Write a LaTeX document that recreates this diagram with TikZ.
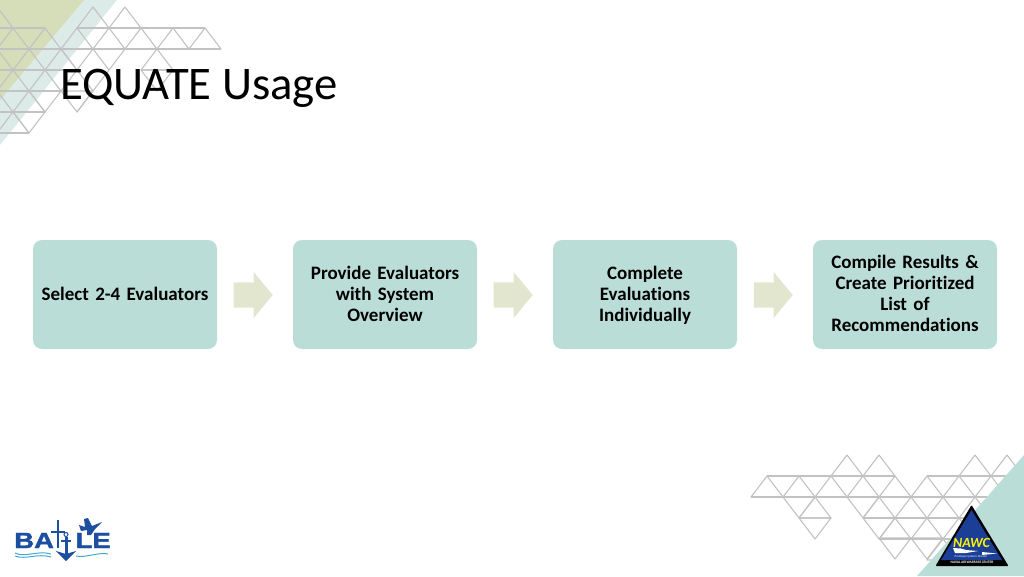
\documentclass[tikz,border=0pt]{standalone}
\usepackage{fontspec}
\setmainfont[Ligatures=NoCommon,BoldFeatures={WordSpace=0.5}]{Carlito}
\newfontfamily\logofont[BoldFeatures={FakeBold=1.5}]{Liberation Sans}
\usetikzlibrary{shapes.arrows}
\definecolor{paleteal}{HTML}{DDEBE8}
\definecolor{boxteal}{HTML}{BBDDD7}
\definecolor{palegreen}{HTML}{D6DDB9}
\definecolor{arrowgreen}{HTML}{E3E6CF}
\definecolor{meshgray}{HTML}{C2C2C2}
\definecolor{logoblue}{HTML}{1C4FA0}
\definecolor{navyblue}{HTML}{1B3E96}
\definecolor{wavecyan}{HTML}{3FA9D6}
\tikzset{
  stepbox/.style={rectangle, rounded corners=9pt, fill=boxteal, minimum width=184pt,
    minimum height=109pt, text width=176pt, align=center, font=\fontsize{19}{21}\selectfont\bfseries,
    inner sep=0pt},
  steparrow/.style={single arrow, fill=arrowgreen, minimum height=39pt, inner ysep=12.5pt, inner xsep=0pt,
    single arrow head extend=10.5pt, single arrow tip angle=101, anchor=tip},
  mesh/.style={draw=meshgray, line width=1.1pt, line join=round},
  logoletters/.style={inner sep=0pt, text=logoblue, xscale=1.25, transform shape,
    font=\fontsize{22}{22}\logofont\bfseries}
}
\newcommand{\uptri}[2]{\path[mesh] (#1,-#2) -- ++(16,-21) -- ++(-32,0) -- cycle;}
\newcommand{\downtri}[2]{\path[mesh] (#1,-#2) -- ++(16,21) -- ++(-32,0) -- cycle;}
\begin{document}
\begin{tikzpicture}[x=1pt,y=1pt]
  \useasboundingbox (0,-576) rectangle (1024,0);
  \clip (0,-576) rectangle (1024,0);

  % corner, top left
  \fill[paleteal] (0,0) -- (117,0) -- (0,-145) -- cycle;
  \fill[palegreen] (0,0) -- (84,0) -- (0,-100) -- cycle;
  \foreach \x/\y in {-3/7, 93/7, 125/7,
      13/28, 45/28, 77/28, 109/28, 141/28, 173/28, 205/28,
      -3/49, 29/49, 61/49, 157/49,
      13/70, 45/70, -3/91, 29/91, 13/112}
  {
    \uptri{\x}{\y}
  }
  \foreach \x/\y in {77/112, 29/133, 45/112, 157/91}
  {
    \downtri{\x}{\y}
  }
  \foreach \a/\b/\y in {-3/45/28, 77/205/28, -3/221/49, -3/77/70, -3/61/91, -3/45/112, -3/29/133}
  {
    \draw[mesh] (\a,-\y) -- (\b,-\y);
  }
  \draw[mesh]
    (125,-49) -- (77,-112)
    (93,-49) -- (109,-70)
    (93,-49) -- (61,-91)
    (61,-49) -- (93,-91);

  % corner, bottom right
  \foreach \x/\y in {847/455, 879/455, 975/455, 1007/455,
      767/476, 799/476, 831/476, 863/476, 895/476, 927/476, 959/476, 991/476,
      815/497, 879/497, 911/497, 943/497, 975/497,
      895/518, 927/518, 959/518, 943/539, 975/539}
  {
    \uptri{\x}{\y}
  }
  \foreach \x/\y in {799/518, 815/539, 863/518, 879/539, 895/559, 927/559}
  {
    \downtri{\x}{\y}
  }
  \foreach \a/\b/\y in {767/895/476, 927/1023/476, 751/1007/497, 863/991/518, 879/1007/539}
  {
    \draw[mesh] (\a,-\y) -- (\b,-\y);
  }
  \fill[boxteal] (1024,-455) -- (917,-576) -- (1024,-576) -- cycle;

  \path (60,-88) node[anchor=west, inner sep=0pt] (title)
    {\fontsize{46.7}{50}\selectfont EQUATE Usage};

  \foreach \i/\x/\t in {1/125/{Select 2-4 Evaluators},
      2/385/{Provide Evaluators\\with System\\Overview},
      3/645/{Complete\\Evaluations\\Individually},
      4/905/{Compile Results \&\\Create Prioritized\\List of\\Recommendations}}
  {
    \path (\x,-294.5) node[stepbox] (s\i) {\rule{0pt}{16.6pt}\t\rule[-5pt]{0pt}{5pt}};
  }

  \foreach \i in {1, 2, 3}
  {
    \path (\i*260+13,-295) node[steparrow] (a\i) {};
  }

  % NAWC logo
  \fill[black, rounded corners=1pt] (971.5,-505) -- (1008.5,-566) -- (935.5,-566) -- cycle;
  \fill[navyblue] (971.5,-510) -- (1002,-560) -- (941,-560) -- cycle;
  \path (971.5,-542.5) node[inner sep=0pt, text=yellow] (nawc)
    {\fontsize{14}{14}\selectfont\bfseries\itshape NAWC};
  \fill[white] (953,-548) -- (961,-548.5) -- (966,-550) -- (978,-551) -- (966,-553) -- (955,-553) -- cycle;
  \fill[white] (982,-552) -- (997,-553.5) -- (982,-555) -- cycle;
  \path (971,-557) node[inner sep=0pt, text=white] (division)
    {\fontsize{3}{3}\selectfont\itshape Prototype Systems Division};
  \path (972,-562.7) node[inner sep=0pt, text=white] (center)
    {\fontsize{3.6}{4}\selectfont\bfseries NAVAL AIR WARFARE CENTER};

  % BATTLE logo
  \path (14,-540.5) node[anchor=west, logoletters] (ba) {BA};
  \path (111,-540.5) node[anchor=east, logoletters] (le) {LE};
  \draw[logoblue, line width=1.2pt] (58,-520) -- (58,-548) (51,-532) -- (65,-532);
  \draw[logoblue, line width=3pt] (66,-537) -- (66,-556);
  \fill[logoblue] (56,-551) -- (66,-561) -- (76,-551) -- (66,-554) -- cycle;
  \draw[logoblue, line width=1pt] (66,-534.5) circle (2pt);
  \draw[logoblue, line width=1.5pt] (61,-541) -- (71,-541);
  \fill[logoblue] (102,-522) -- (92,-526) -- (88,-518) -- (84,-519) -- (85,-527) -- (79,-525) -- (81,-531)
    -- (87,-530) -- (87,-535) -- (91,-535) -- (95,-529) -- cycle;
  \draw[wavecyan, line width=1pt] (15,-553) .. controls (25,-558) and (38,-550) .. (51,-554);
  \draw[wavecyan, line width=1pt] (15,-556) .. controls (25,-560) and (38,-553) .. (51,-557);
  \draw[wavecyan, line width=1pt] (76,-556) .. controls (86,-558) and (98,-552) .. (108,-554);
\end{tikzpicture}
\end{document}
